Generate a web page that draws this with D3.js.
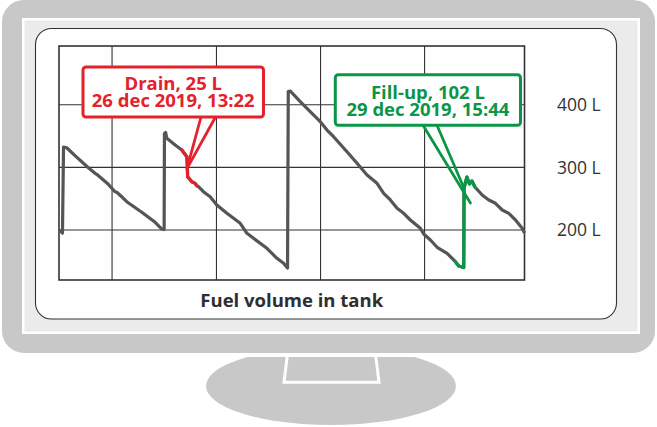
<!DOCTYPE html>
<html>
<head>
<meta charset="utf-8">
<script src="https://cdn.jsdelivr.net/npm/d3@7/dist/d3.min.js"></script>
<style>
  html, body { margin: 0; padding: 0; background: #ffffff; }
  svg { display: block; }
  text { font-family: "Open Sans", "Noto Sans", sans-serif; }
</style>
</head>
<body>
<svg id="chart" width="657" height="427"></svg>
<script>
// ---------------- DATA ----------------
const chartTitle = "Fuel volume in tank";
const timeDomain = ["2019-12-25 03:00", "2019-12-30 08:00"];
const litreDomain = [120, 494];
const yTickValues = [400, 300, 200];
const yTickLabels = ["400 L", "300 L", "200 L"];
const gridTimes = ["2019-12-25 17:15", "2019-12-26 21:17", "2019-12-28 01:14", "2019-12-29 05:10"];

const seriesTimes = [
  "2019-12-25 03:24", "2019-12-25 03:56", "2019-12-25 04:13", "2019-12-25 05:04", "2019-12-25 07:18",
  "2019-12-25 10:53", "2019-12-25 12:41", "2019-12-25 13:08", "2019-12-25 16:15", "2019-12-25 18:03",
  "2019-12-25 18:31", "2019-12-25 19:51", "2019-12-25 20:17", "2019-12-25 21:12", "2019-12-26 01:14",
  "2019-12-26 04:49", "2019-12-26 06:37", "2019-12-26 07:14", "2019-12-26 07:19", "2019-12-26 07:38",
  "2019-12-26 07:57", "2019-12-26 10:11", "2019-12-26 11:59", "2019-12-26 13:20", "2019-12-26 13:29",
  "2019-12-26 13:32", "2019-12-26 14:40", "2019-12-26 15:34", "2019-12-26 16:01", "2019-12-26 16:27",
  "2019-12-26 17:47", "2019-12-26 19:35", "2019-12-26 21:23", "2019-12-27 00:05", "2019-12-27 03:40",
  "2019-12-27 05:28", "2019-12-27 07:14", "2019-12-27 10:50", "2019-12-27 13:31", "2019-12-27 15:18",
  "2019-12-27 16:22", "2019-12-27 16:34", "2019-12-27 17:06", "2019-12-27 19:47", "2019-12-27 21:35",
  "2019-12-28 01:10", "2019-12-28 02:58", "2019-12-28 04:44", "2019-12-28 08:20", "2019-12-28 11:02",
  "2019-12-28 13:43", "2019-12-28 16:24", "2019-12-28 18:11", "2019-12-28 19:59", "2019-12-28 21:47",
  "2019-12-28 23:33", "2019-12-29 01:21", "2019-12-29 04:02", "2019-12-29 04:56", "2019-12-29 06:44",
  "2019-12-29 08:32", "2019-12-29 11:13", "2019-12-29 13:27", "2019-12-29 14:20", "2019-12-29 15:41",
  "2019-12-29 15:46", "2019-12-29 16:32", "2019-12-29 17:13", "2019-12-29 17:53", "2019-12-29 18:41",
  "2019-12-29 20:38", "2019-12-29 22:24", "2019-12-30 00:12", "2019-12-30 02:01", "2019-12-30 03:47",
  "2019-12-30 05:35", "2019-12-30 07:23", "2019-12-30 07:52"
];
const seriesLitres = [
  198.3, 195.1, 332.6, 331.4, 318.7,
  299.5, 290.5, 288.9, 272.9, 261.1,
  260.2, 253.1, 250.6, 245.1, 228.2,
  212.2, 201.5, 200.7, 354.1, 355.7,
  346.5, 335.8, 327.8, 317.1, 298.5,
  285.1, 277.1, 274.5, 270.7, 269.1,
  261.1, 253.1, 239.9, 226.6, 210.6,
  194.6, 186.6, 170.7, 154.7, 146.7,
  139.2, 421.3, 422.1, 405.0, 394.4,
  373.0, 359.7, 349.0, 325.0, 306.5,
  287.8, 274.5, 258.6, 247.9, 234.6,
  226.6, 215.9, 202.6, 193.5, 183.9,
  172.3, 162.7, 149.2, 142.4, 140.0,
  267.0, 284.6, 273.4, 278.2, 268.6,
  255.8, 247.9, 242.6, 231.9, 226.6,
  215.9, 202.6, 196.7
];

const eventNames = ["drain", "fill"];
const eventLines1 = ["Drain, 25 L", "Fill-up, 102 L"];
const eventLines2 = ["26 dec 2019, 13:22", "29 dec 2019, 15:44"];
const eventTimes = ["2019-12-26 13:22", "2019-12-29 15:44"];
const eventTipLitres = [298, 267];
const eventWindowStart = ["2019-12-26 11:59", "2019-12-29 13:27"];
const eventWindowEnd = ["2019-12-26 16:01", "2019-12-29 18:41"];
const eventColors = ["#e3222b", "#0b9647"];

// ---------------- DRAW ----------------
const parse = d3.timeParse("%Y-%m-%d %H:%M");
const svg = d3.select("#chart");

const plot = { left: 59, right: 524.5, top: 46, bottom: 280 };

const x = d3.scaleTime().domain(timeDomain.map(parse)).range([plot.left, plot.right]);
const y = d3.scaleLinear().domain(litreDomain).range([plot.bottom, plot.top]);

// stand
svg.append("ellipse").attr("cx", 331).attr("cy", 386).attr("rx", 125).attr("ry", 39)
  .attr("fill", "#c7c8c7");
svg.append("path").attr("d", "M288,350 L375,350 L379,382.3 L284,382.3 Z")
  .attr("fill", "#c7c8c7").attr("stroke", "#ffffff").attr("stroke-width", 3);

// monitor body
svg.append("rect").attr("x", 0).attr("y", -2).attr("width", 657).attr("height", 357)
  .attr("rx", 24).attr("fill", "#c7c8c7").attr("stroke", "#ffffff").attr("stroke-width", 4);
svg.append("rect").attr("x", 23.25).attr("y", 19.25).attr("width", 615.5).attr("height", 313.5)
  .attr("fill", "#eaebea").attr("stroke", "#ffffff").attr("stroke-width", 2.5);
svg.append("rect").attr("x", 35.5).attr("y", 28.5).attr("width", 581).attr("height", 290.5)
  .attr("rx", 16).attr("fill", "#fefefe").attr("stroke", "#333333").attr("stroke-width", 1.1);

// gridlines
const g = svg.append("g");
g.selectAll("line.vg").data(gridTimes).join("line").attr("class", "vg")
  .attr("x1", d => x(parse(d))).attr("x2", d => x(parse(d)))
  .attr("y1", plot.top).attr("y2", plot.bottom)
  .attr("stroke", "#333").attr("stroke-width", 1.1);
g.selectAll("line.hg").data(yTickValues).join("line").attr("class", "hg")
  .attr("x1", plot.left).attr("x2", plot.right)
  .attr("y1", d => y(d)).attr("y2", d => y(d))
  .attr("stroke", "#333").attr("stroke-width", 1.1);
g.append("rect").attr("x", plot.left).attr("y", plot.top)
  .attr("width", plot.right - plot.left).attr("height", plot.bottom - plot.top)
  .attr("fill", "none").attr("stroke", "#333").attr("stroke-width", 1.6);

// y labels
svg.selectAll("text.yl").data(yTickValues).join("text").attr("class", "yl")
  .attr("x", 557).attr("y", d => y(d)).attr("dy", "0.36em")
  .attr("font-size", 17.5).attr("fill", "#333")
  .text((d, i) => yTickLabels[i]);

// title
svg.append("text").attr("x", (plot.left + plot.right) / 2).attr("y", 307)
  .attr("text-anchor", "middle").attr("font-size", 18.5).attr("font-weight", 700)
  .attr("fill", "#2f2f2f").text(chartTitle);

// series
const data = seriesTimes.map((t, i) => ({ t: parse(t), v: seriesLitres[i] }));
const line = d3.line().x(d => x(d.t)).y(d => y(d.v));
svg.append("path").datum(data).attr("d", line)
  .attr("fill", "none").attr("stroke", "#555555").attr("stroke-width", 3.2)
  .attr("stroke-linejoin", "round").attr("stroke-linecap", "round");

eventNames.forEach((name, i) => {
  const s = parse(eventWindowStart[i]), e = parse(eventWindowEnd[i]);
  const seg = data.filter(d => d.t >= s && d.t <= e);
  svg.append("path").datum(seg).attr("d", line)
    .attr("fill", "none").attr("stroke", eventColors[i]).attr("stroke-width", 3.2)
    .attr("stroke-linejoin", "round").attr("stroke-linecap", "round");
});

// callouts
const boxes = [
  { x0: 83, y0: 67, x1: 263.5, y1: 117, b1: 89.5, b2: 107.3, pl: 201, pr: 215.5, ext: [0, 0] },
  { x0: 335.3, y0: 74.7, x1: 520.5, y1: 125.3, b1: 98.5, b2: 116, pl: 423, pr: 437, ext: [6.5, 15] }
];
eventNames.forEach((name, i) => {
  const b = boxes[i];
  const c = eventColors[i];
  const tx = x(parse(eventTimes[i])), ty = y(eventTipLitres[i]);
  const grp = svg.append("g");
  grp.append("line").attr("x1", b.pl).attr("y1", b.y1).attr("x2", tx + b.ext[0]).attr("y2", ty + b.ext[1])
    .attr("stroke", c).attr("stroke-width", 2.8).attr("stroke-linecap", "round");
  grp.append("line").attr("x1", b.pr).attr("y1", b.y1).attr("x2", tx).attr("y2", ty)
    .attr("stroke", c).attr("stroke-width", 2.8).attr("stroke-linecap", "round");
  grp.append("rect").attr("x", b.x0).attr("y", b.y0).attr("width", b.x1 - b.x0).attr("height", b.y1 - b.y0)
    .attr("rx", 3).attr("fill", "#ffffff").attr("stroke", c).attr("stroke-width", 3);
  const cx = (b.x0 + b.x1) / 2;
  const txt = grp.append("text").attr("text-anchor", "middle")
    .attr("font-size", 18.5).attr("font-weight", 700).attr("fill", c);
  txt.append("tspan").attr("x", cx).attr("y", b.b1).text(eventLines1[i]);
  txt.append("tspan").attr("x", cx).attr("y", b.b2).text(eventLines2[i]);
});
</script>
</body>
</html>
